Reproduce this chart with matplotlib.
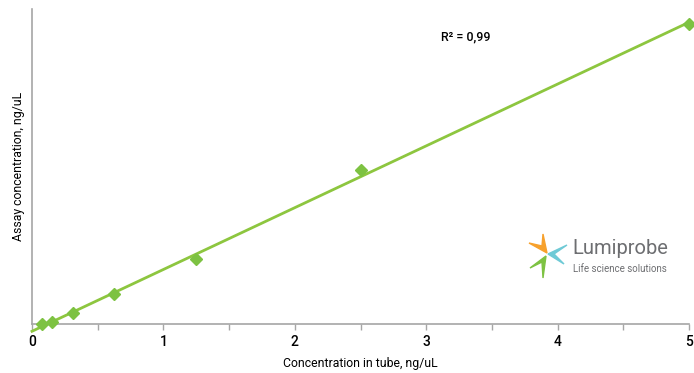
import numpy as np
import matplotlib
matplotlib.use("Agg")
import matplotlib.pyplot as plt
from matplotlib.patches import Polygon
from matplotlib.ticker import MultipleLocator

# tube concentration (ng/uL) vs assay reading
tube_conc = [0.078, 0.156, 0.3125, 0.625, 1.25, 2.5, 5.0]
assay_conc = [0.0, 0.04, 0.19, 0.50, 1.08, 2.56, 5.0]
r2_label = "R² = 0,99"

green = "#7dc242"
line_green = "#8dc63f"
gray_axis = "#a6a6a6"

plt.rcParams["font.family"] = ["Roboto", "DejaVu Sans"]
plt.rcParams["font.weight"] = "medium"

W, H = 694, 373
fig = plt.figure(figsize=(W / 100, H / 100), dpi=100)
ax = fig.add_axes([32 / W, 1 - 324 / H, 657 / W, 315 / H])

# linear trendline
k, b = np.polyfit(tube_conc, assay_conc, 1)
xs = np.array([0, 5])
ax.plot(xs, k * xs + b, color=line_green, lw=2, clip_on=False, zorder=2)
ax.plot(tube_conc, assay_conc, "D", color=green, ms=6.5, mec=green,
        clip_on=False, zorder=3)

ax.set_xlim(0, 5)
ax.set_ylim(0, 5.25)
ax.xaxis.set_major_locator(MultipleLocator(1))
ax.xaxis.set_minor_locator(MultipleLocator(0.5))
ax.tick_params(axis="x", which="both", length=4, color=gray_axis, width=1)
ax.tick_params(axis="x", which="major", pad=4, labelsize=10)
ax.set_yticks([])
for s in ["top", "right"]:
    ax.spines[s].set_visible(False)
for s in ["left", "bottom"]:
    ax.spines[s].set_color(gray_axis)
    ax.spines[s].set_linewidth(1.2)

ax.set_xlabel("Concentration in tube, ng/uL", fontsize=8.8, labelpad=5.5)
ax.set_ylabel("Assay concentration, ng/uL", fontsize=8.8, labelpad=5)

ax.text(0.66, 0.911, r2_label, transform=ax.transAxes, fontsize=9,
        ha="center", va="center")


# logo, drawn in pixel coords of the figure
def px(x, y):
    return (x / W, 1 - y / H)


petals = [
    ("#f7a12c", [(543, 234), (547, 253), (529, 243), (542, 246)]),
    ("#6fcad6", [(567, 245), (548, 254), (564, 264), (554, 254)]),
    ("#7dc242", [(530, 268), (546, 256), (543, 278), (542, 262)]),
]
for c, pts in petals:
    fig.patches.append(Polygon([px(*p) for p in pts], closed=True,
                               transform=fig.transFigure, color=c))

fig.text(*px(572, 248), "Lumiprobe", fontsize=14.5, color="#6d6e71",
         ha="left", va="center", weight="normal")
fig.text(*px(573, 269), "Life science solutions", fontsize=7,
         color="#6d6e71", ha="left", va="center", weight="normal")

fig.savefig("out.png", dpi=100)
